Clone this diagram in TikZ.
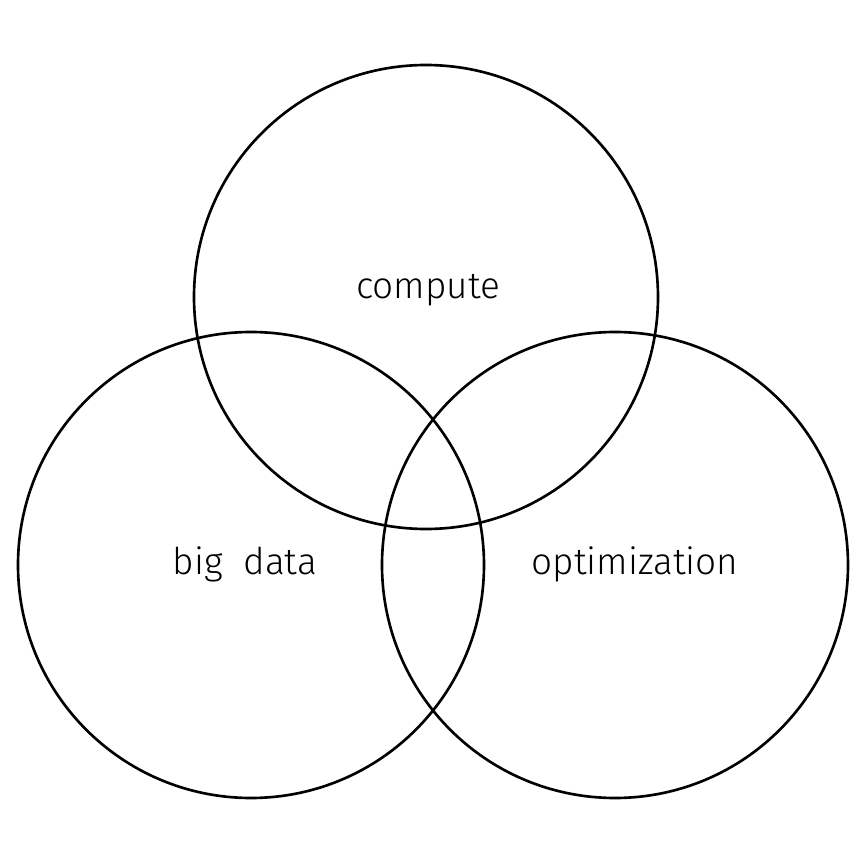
\documentclass[tikz,border=0pt]{standalone}
\usepackage{fontspec}
\setmainfont{Fira Sans Light}
\tikzset{
	set/.style={line width=0.75pt},
	setlabel/.style={anchor=base, font=\fontsize{10.5}{12}\selectfont}
}
\begin{document}
\begin{tikzpicture}

	\useasboundingbox (0,0) rectangle (8.65,8.65);

	\draw[set] (4.26,5.68) circle (2.32);
	\draw[set] (2.51,3.00) circle (2.33);
	\draw[set] (6.15,3.00) circle (2.33);

	\node[setlabel] (compute) at (4.28,5.67) {compute};
	\node[setlabel] (bigdata) at (2.45,2.91) {big\ \ data};
	\node[setlabel] (optim) at (6.35,2.91) {optimization};

\end{tikzpicture}
\end{document}
